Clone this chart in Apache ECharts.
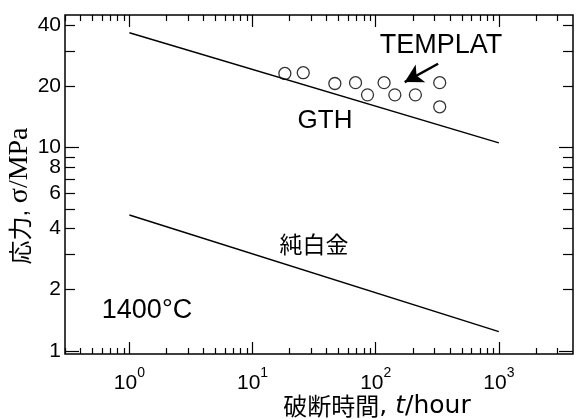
<!DOCTYPE html>
<html>
<head>
<meta charset="utf-8">
<script src="https://cdn.jsdelivr.net/npm/echarts@6/dist/echarts.min.js"></script>
<style>
html,body{margin:0;padding:0;background:#fff;}
#chart{width:576px;height:419px;}
</style>
</head>
<body>
<div id="chart"></div>
<script>
// ---- data ----
const gthTime = [1, 1000];
const gthStress = [36.8, 10.56];
const ptTime = [1, 1000];
const ptStress = [4.66, 1.244];
const templatTime = [18.3, 25.8, 46.6, 68.6, 85.8, 117, 143, 210, 331, 331];
const templatStress = [23.2, 23.4, 20.7, 20.9, 18.2, 20.9, 18.2, 18.2, 20.9, 15.9];
const arrowFrom = [321, 25.9];
const arrowTo = [172, 21.05];

// ---- ticks ----
const xMajor = [1, 10, 100, 1000];
const xMinor = [0.3, 0.4, 0.5, 0.6, 0.7, 0.8, 0.9, 2, 3, 4, 5, 6, 7, 8, 9, 20, 30, 40, 50, 60, 70, 80, 90, 200, 300, 400, 500, 600, 700, 800, 900, 2000, 3000];
const yLabels = [1, 2, 4, 6, 8, 10, 20, 40];
const yMajor = [1, 10];
const yMinor = [2, 3, 4, 5, 6, 7, 8, 9, 20, 30, 40];

const latin = '"Liberation Sans"';
const wide = '"DejaVu Sans"';
const cjk = '"Noto Sans CJK JP"';
const fam = latin + ', ' + cjk;

const chart = echarts.init(document.getElementById('chart'), null, {renderer: 'canvas'});
const X_MIN = 0.3, X_MAX = 4000, Y_MIN = 0.965, Y_MAX = 45;

function xAx(pos, major, showLabel) {
  return {
    type: 'log', logBase: 10, position: pos, min: X_MIN, max: X_MAX,
    axisLine: {show: false}, splitLine: {show: false},
    axisTick: {show: true, inside: true, length: major ? 12 : 6, customValues: major ? xMajor : xMinor,
      lineStyle: {color: '#000', width: 1.2}},
    axisLabel: showLabel ? {
      show: true, customValues: xMajor, margin: 12,
      formatter: function (v) { return '{b|10}{s|' + Math.round(Math.log10(v)) + '}'; },
      rich: {
        b: {fontFamily: latin, fontSize: 21, color: '#000', lineHeight: 28, verticalAlign: 'bottom'},
        s: {fontFamily: latin, fontSize: 14, color: '#000', lineHeight: 13, verticalAlign: 'top'}
      }
    } : {show: false}
  };
}
function yAx(pos, major, showLabel) {
  return {
    type: 'log', logBase: 10, position: pos, min: Y_MIN, max: Y_MAX,
    axisLine: {show: false}, splitLine: {show: false},
    axisTick: {show: true, inside: true, length: major ? 14 : 10, customValues: major ? yMajor : yMinor,
      lineStyle: {color: '#000', width: 1.2}},
    axisLabel: showLabel ? {
      show: true, customValues: yLabels, margin: 4,
      fontFamily: latin, fontSize: 21, color: '#000',
      formatter: function (v) { return String(Math.round(v)); }
    } : {show: false}
  };
}

const option = {
  animation: false,
  backgroundColor: '#fff',
  grid: {left: 65, right: 3, top: 15, bottom: 65, show: true, borderColor: '#000', borderWidth: 1.5, backgroundColor: 'transparent'},
  xAxis: [xAx('bottom', true, true), xAx('bottom', false, false), xAx('top', true, false), xAx('top', false, false)],
  yAxis: [yAx('left', true, true), yAx('left', false, false), yAx('right', true, false), yAx('right', false, false)],
  series: [
    {
      type: 'line', name: 'GTH', xAxisIndex: 0, yAxisIndex: 0, symbol: 'none',
      lineStyle: {color: '#000', width: 1.5},
      data: gthTime.map((t, i) => [t, gthStress[i]])
    },
    {
      type: 'line', name: '純白金', xAxisIndex: 0, yAxisIndex: 0, symbol: 'none',
      lineStyle: {color: '#000', width: 1.5},
      data: ptTime.map((t, i) => [t, ptStress[i]])
    },
    {
      type: 'scatter', name: 'TEMPLAT', xAxisIndex: 0, yAxisIndex: 0,
      symbol: 'circle', symbolSize: 12,
      itemStyle: {color: '#fff', borderColor: '#000', borderWidth: 1.3},
      data: templatTime.map((t, i) => [t, templatStress[i]]),
      markLine: {
        silent: true, animation: false,
        symbol: ['none', 'arrow'], symbolSize: [15, 18],
        lineStyle: {color: '#000', width: 2.5, type: 'solid'},
        label: {show: false},
        data: [[{coord: arrowFrom}, {coord: arrowTo}]]
      }
    }
  ],
  graphic: [
    {type: 'text', x: 441, y: 46, style: {text: 'TEMPLAT', font: '27px ' + fam, fill: '#000', align: 'center', verticalAlign: 'middle'}},
    {type: 'text', x: 325, y: 121, style: {text: 'GTH', font: '26px ' + fam, fill: '#000', align: 'center', verticalAlign: 'middle'}},
    {type: 'text', x: 314, y: 244, style: {text: '純白金', font: '23px ' + cjk, fill: '#000', align: 'center', verticalAlign: 'middle'}},
    {type: 'text', x: 147, y: 311, style: {text: '1400°C', font: '27px ' + fam, fill: '#000', align: 'center', verticalAlign: 'middle'}},
    {type: 'text', x: 377, y: 406, style: {
      text: '{c|破断時間}{l|, }{i|t}{l|/hour}', align: 'center', verticalAlign: 'middle',
      rich: {
        c: {fontFamily: cjk, fontSize: 24, fill: '#000'},
        l: {fontFamily: wide, fontSize: 25, fill: '#000'},
        i: {fontFamily: wide, fontSize: 25, fontStyle: 'italic', fill: '#000'}
      }
    }},
    {type: 'text', x: 20, y: 196, rotation: Math.PI / 2, style: {
      text: '{c|応力}{l|, }{s|σ/MPa}', align: 'center', verticalAlign: 'middle',
      rich: {
        c: {fontFamily: cjk, fontSize: 24, fill: '#000'},
        l: {fontFamily: latin, fontSize: 24, fill: '#000'},
        s: {fontFamily: '"Liberation Serif", "DejaVu Serif"', fontSize: 28, fill: '#000'}
      }
    }}
  ]
};
chart.setOption(option);
</script>
</body>
</html>
